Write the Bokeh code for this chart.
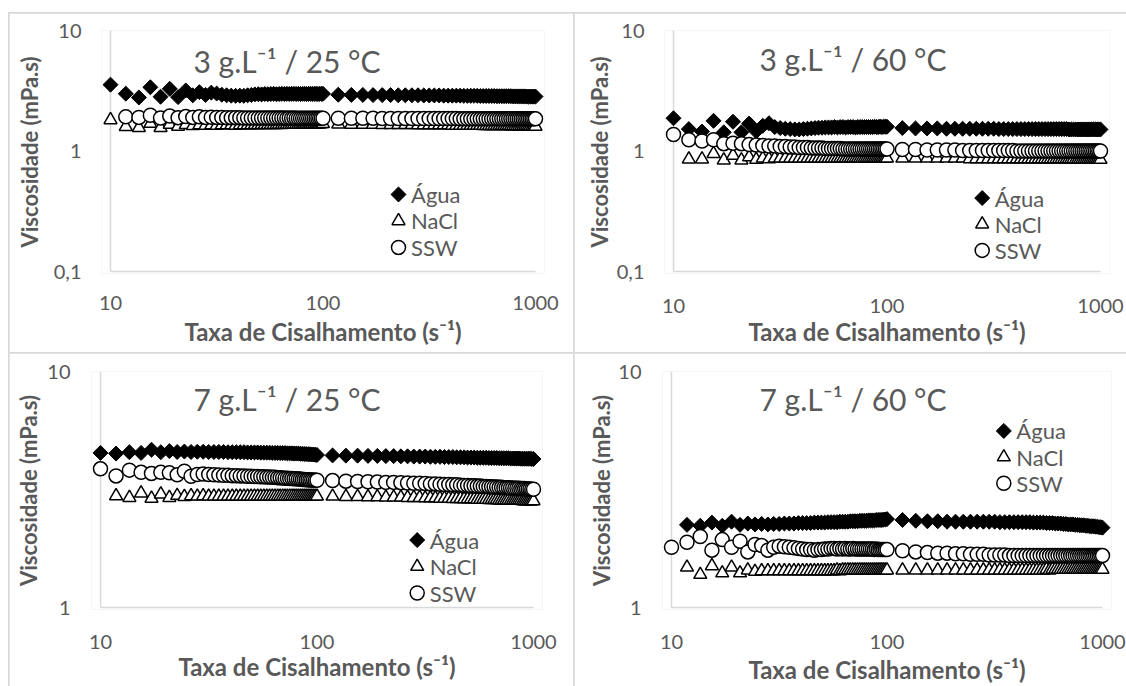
import math
import numpy as np
from bokeh.plotting import figure
from bokeh.models import (Range1d, FixedTicker, Label, ColumnDataSource, CustomJSTickFormatter)
from bokeh.layouts import column, row
from bokeh.embed import file_html
from bokeh.resources import INLINE

# ---------------- data ----------------
shear_rate = [
    10, 11.8, 13.6, 15.4, 17.2, 19, 20.8, 22.6, 24.4, 26.2,
    28, 29.8, 31.6, 33.4, 35.2, 37, 38.8, 40.6, 42.4, 44.2,
    46, 47.8, 49.6, 51.4, 53.2, 55, 56.8, 58.6, 60.4, 62.2,
    64, 65.8, 67.6, 69.4, 71.2, 73, 74.8, 76.6, 78.4, 80.2,
    82, 83.8, 85.6, 87.4, 89.2, 91, 92.8, 94.6, 96.4, 98.2,
    100,
    118, 136, 154, 172, 190, 208, 226, 244, 262, 280,
    298, 316, 334, 352, 370, 388, 406, 424, 442, 460,
    478, 496, 514, 532, 550, 568, 586, 604, 622, 640,
    658, 676, 694, 712, 730, 748, 766, 784, 802, 820,
    838, 856, 874, 892, 910, 928, 946, 964, 982, 1000,
]

agua_3g_25 = [
    3.55, 2.99, 2.78, 3.38, 2.82, 3.28, 2.80, 3.18, 2.90, 3.08,
    2.92, 3.05, 3.00, 2.93, 2.90, 2.88, 2.87, 2.88, 2.87, 2.90,
    2.92, 2.95, 2.96, 2.95, 2.97, 2.96, 2.97, 2.98, 2.96, 2.97,
    2.98, 2.97, 2.98, 2.97, 2.98, 2.98, 2.97, 2.98, 2.97, 2.98,
    2.98, 2.97, 2.98, 2.98, 2.97, 2.98, 2.98, 2.97, 2.98, 2.98,
    2.98,
    2.93, 2.92, 2.92, 2.91, 2.91, 2.91, 2.90, 2.90, 2.90, 2.90,
    2.89, 2.89, 2.89, 2.89, 2.88, 2.88, 2.88, 2.88, 2.88, 2.87,
    2.87, 2.87, 2.87, 2.87, 2.86, 2.86, 2.86, 2.86, 2.86, 2.86,
    2.85, 2.85, 2.85, 2.85, 2.85, 2.85, 2.85, 2.84, 2.84, 2.84,
    2.84, 2.84, 2.84, 2.84, 2.83, 2.83, 2.83, 2.83, 2.83, 2.83,
]
nacl_3g_25 = [
    1.81, 1.59, 1.56, 1.69, 1.56, 1.66, 1.60, 1.65, 1.62, 1.64,
    1.63, 1.64, 1.63, 1.64, 1.64, 1.64, 1.63, 1.64, 1.64, 1.64,
    1.64, 1.65, 1.64, 1.65, 1.65, 1.65, 1.65, 1.65, 1.65, 1.66,
    1.65, 1.66, 1.66, 1.66, 1.66, 1.66, 1.66, 1.66, 1.67, 1.66,
    1.67, 1.67, 1.67, 1.67, 1.67, 1.67, 1.67, 1.68, 1.67, 1.68,
    1.68,
    1.67, 1.66, 1.66, 1.66, 1.65, 1.65, 1.65, 1.65, 1.65, 1.64,
    1.64, 1.64, 1.64, 1.64, 1.64, 1.64, 1.63, 1.63, 1.63, 1.63,
    1.63, 1.63, 1.63, 1.63, 1.63, 1.62, 1.62, 1.62, 1.62, 1.62,
    1.62, 1.62, 1.62, 1.62, 1.62, 1.62, 1.61, 1.61, 1.61, 1.61,
    1.61, 1.61, 1.61, 1.61, 1.61, 1.61, 1.61, 1.60, 1.60, 1.60,
]
ssw_3g_25 = [
    None, 1.92, 1.90, 1.98, 1.88, 1.95, 1.89, 1.93, 1.90, 1.92,
    1.90, 1.91, 1.90, 1.90, 1.89, 1.89, 1.89, 1.89, 1.88, 1.88,
    1.88, 1.88, 1.88, 1.88, 1.88, 1.88, 1.88, 1.88, 1.88, 1.88,
    1.88, 1.88, 1.87, 1.88, 1.87, 1.88, 1.87, 1.87, 1.87, 1.87,
    1.87, 1.87, 1.87, 1.87, 1.87, 1.87, 1.87, 1.87, 1.87, 1.87,
    1.87,
    1.87, 1.87, 1.87, 1.87, 1.86, 1.86, 1.86, 1.86, 1.86, 1.86,
    1.86, 1.86, 1.86, 1.86, 1.86, 1.86, 1.86, 1.86, 1.85, 1.85,
    1.85, 1.85, 1.85, 1.85, 1.85, 1.85, 1.85, 1.85, 1.85, 1.85,
    1.85, 1.85, 1.85, 1.85, 1.85, 1.85, 1.85, 1.85, 1.85, 1.85,
    1.85, 1.85, 1.85, 1.85, 1.85, 1.85, 1.85, 1.85, 1.85, 1.85,
]

agua_3g_60 = [
    1.87, 1.52, 1.45, 1.78, 1.43, 1.75, 1.43, 1.69, 1.46, 1.62,
    1.70, 1.58, 1.55, 1.53, 1.52, 1.51, 1.51, 1.52, 1.53, 1.54,
    1.55, 1.56, 1.56, 1.57, 1.57, 1.57, 1.58, 1.57, 1.58, 1.58,
    1.57, 1.58, 1.58, 1.58, 1.57, 1.58, 1.58, 1.58, 1.58, 1.58,
    1.58, 1.58, 1.58, 1.59, 1.58, 1.58, 1.59, 1.58, 1.59, 1.59,
    1.59,
    1.55, 1.54, 1.54, 1.54, 1.53, 1.53, 1.53, 1.53, 1.53, 1.53,
    1.53, 1.53, 1.52, 1.52, 1.52, 1.52, 1.52, 1.52, 1.52, 1.52,
    1.52, 1.52, 1.52, 1.52, 1.52, 1.52, 1.52, 1.52, 1.52, 1.52,
    1.52, 1.52, 1.52, 1.51, 1.51, 1.51, 1.51, 1.51, 1.51, 1.51,
    1.51, 1.51, 1.51, 1.51, 1.51, 1.51, 1.51, 1.51, 1.51, 1.51,
]
nacl_3g_60 = [
    None, 0.855, 0.855, 0.95, 0.84, 0.92, 0.84, 0.89, 0.85, 0.87,
    0.86, 0.87, 0.87, 0.87, 0.87, 0.87, 0.87, 0.87, 0.87, 0.87,
    0.87, 0.87, 0.87, 0.87, 0.87, 0.87, 0.87, 0.87, 0.87, 0.87,
    0.87, 0.87, 0.87, 0.87, 0.87, 0.87, 0.87, 0.87, 0.87, 0.87,
    0.87, 0.87, 0.87, 0.87, 0.87, 0.87, 0.87, 0.87, 0.87, 0.87,
    0.87,
    0.87, 0.87, 0.87, 0.87, 0.87, 0.87, 0.87, 0.86, 0.86, 0.86,
    0.86, 0.86, 0.86, 0.86, 0.86, 0.86, 0.86, 0.86, 0.86, 0.86,
    0.86, 0.86, 0.86, 0.86, 0.86, 0.86, 0.86, 0.86, 0.86, 0.86,
    0.86, 0.86, 0.86, 0.86, 0.86, 0.86, 0.85, 0.85, 0.85, 0.85,
    0.85, 0.85, 0.85, 0.85, 0.85, 0.85, 0.85, 0.85, 0.85, 0.85,
]
ssw_3g_60 = [
    1.37, 1.24, 1.21, 1.24, 1.15, 1.16, 1.15, 1.13, 1.12, 1.11,
    1.10, 1.10, 1.09, 1.09, 1.08, 1.08, 1.07, 1.07, 1.07, 1.06,
    1.06, 1.06, 1.06, 1.05, 1.05, 1.05, 1.05, 1.05, 1.05, 1.04,
    1.04, 1.04, 1.04, 1.04, 1.04, 1.04, 1.04, 1.04, 1.04, 1.04,
    1.04, 1.04, 1.04, 1.04, 1.04, 1.04, 1.04, 1.04, 1.04, 1.04,
    1.04,
    1.03, 1.03, 1.02, 1.02, 1.02, 1.02, 1.01, 1.01, 1.01, 1.01,
    1.01, 1.01, 1.01, 1.01, 1.01, 1.01, 1.00, 1.00, 1.00, 1.00,
    1.00, 1.00, 1.00, 1.00, 1.00, 1.00, 1.00, 1.00, 1.00, 1.00,
    1.00, 1.00, 1.00, 1.00, 1.00, 1.00, 1.00, 1.00, 1.00, 1.00,
    1.00, 1.00, 1.00, 1.00, 1.00, 1.00, 1.00, 1.00, 1.00, 1.00,
]

agua_7g_25 = [
    4.52, 4.49, 4.55, 4.52, 4.66, 4.55, 4.60, 4.56, 4.58, 4.56,
    4.57, 4.57, 4.56, 4.56, 4.56, 4.56, 4.55, 4.55, 4.55, 4.55,
    4.55, 4.54, 4.54, 4.54, 4.54, 4.53, 4.53, 4.53, 4.53, 4.52,
    4.52, 4.52, 4.51, 4.51, 4.51, 4.50, 4.50, 4.50, 4.49, 4.49,
    4.49, 4.48, 4.48, 4.47, 4.47, 4.46, 4.46, 4.45, 4.45, 4.44,
    4.43,
    4.41, 4.40, 4.40, 4.39, 4.39, 4.38, 4.38, 4.37, 4.37, 4.36,
    4.36, 4.36, 4.35, 4.35, 4.35, 4.34, 4.34, 4.34, 4.33, 4.33,
    4.33, 4.32, 4.32, 4.32, 4.31, 4.31, 4.31, 4.31, 4.30, 4.30,
    4.30, 4.30, 4.29, 4.29, 4.29, 4.29, 4.29, 4.28, 4.28, 4.28,
    4.28, 4.28, 4.27, 4.27, 4.27, 4.27, 4.27, 4.27, 4.26, 4.26,
]
nacl_7g_25 = [
    None, 2.97, 2.92, 3.05, 2.90, 3.02, 2.92, 2.98, 2.95, 2.97,
    2.96, 2.97, 2.96, 2.96, 2.96, 2.96, 2.96, 2.96, 2.96, 2.96,
    2.96, 2.96, 2.96, 2.96, 2.96, 2.96, 2.96, 2.96, 2.96, 2.96,
    2.96, 2.96, 2.96, 2.96, 2.96, 2.96, 2.96, 2.96, 2.96, 2.96,
    2.96, 2.96, 2.96, 2.96, 2.96, 2.96, 2.96, 2.96, 2.96, 2.96,
    2.96,
    2.96, 2.95, 2.95, 2.94, 2.94, 2.93, 2.93, 2.93, 2.92, 2.92,
    2.92, 2.91, 2.91, 2.91, 2.90, 2.90, 2.90, 2.89, 2.89, 2.89,
    2.88, 2.88, 2.88, 2.88, 2.87, 2.87, 2.87, 2.87, 2.86, 2.86,
    2.86, 2.86, 2.85, 2.85, 2.85, 2.85, 2.85, 2.84, 2.84, 2.84,
    2.84, 2.84, 2.84, 2.83, 2.83, 2.83, 2.83, 2.83, 2.83, 2.83,
]
ssw_7g_25 = [
    3.87, 3.61, 3.82, 3.74, 3.70, 3.74, 3.72, 3.65, 3.78, 3.60,
    3.66, 3.68, 3.66, 3.65, 3.64, 3.63, 3.63, 3.62, 3.62, 3.61,
    3.61, 3.60, 3.60, 3.59, 3.59, 3.58, 3.58, 3.57, 3.57, 3.56,
    3.56, 3.55, 3.55, 3.54, 3.53, 3.53, 3.52, 3.52, 3.51, 3.51,
    3.50, 3.50, 3.49, 3.49, 3.48, 3.48, 3.47, 3.47, 3.47, 3.46,
    3.46,
    3.45, 3.43, 3.42, 3.41, 3.40, 3.39, 3.39, 3.38, 3.37, 3.36,
    3.36, 3.35, 3.34, 3.34, 3.33, 3.32, 3.32, 3.31, 3.31, 3.30,
    3.29, 3.29, 3.28, 3.28, 3.27, 3.27, 3.26, 3.26, 3.25, 3.25,
    3.24, 3.24, 3.23, 3.23, 3.22, 3.22, 3.22, 3.21, 3.21, 3.20,
    3.20, 3.20, 3.19, 3.19, 3.19, 3.18, 3.18, 3.18, 3.17, 3.17,
]

agua_7g_60 = [
    None, 2.24, 2.22, 2.29, 2.22, 2.31, 2.24, 2.27, 2.25, 2.26,
    2.25, 2.26, 2.26, 2.27, 2.27, 2.27, 2.28, 2.28, 2.28, 2.28,
    2.29, 2.29, 2.29, 2.29, 2.30, 2.30, 2.30, 2.30, 2.31, 2.31,
    2.31, 2.31, 2.32, 2.32, 2.32, 2.32, 2.33, 2.33, 2.33, 2.33,
    2.34, 2.34, 2.34, 2.34, 2.35, 2.35, 2.35, 2.35, 2.36, 2.36,
    2.37,
    2.35, 2.33, 2.32, 2.32, 2.31, 2.31, 2.31, 2.31, 2.31, 2.31,
    2.31, 2.31, 2.30, 2.30, 2.30, 2.30, 2.30, 2.30, 2.30, 2.30,
    2.29, 2.29, 2.29, 2.29, 2.28, 2.28, 2.28, 2.27, 2.27, 2.27,
    2.26, 2.26, 2.25, 2.25, 2.25, 2.24, 2.24, 2.23, 2.23, 2.23,
    2.22, 2.22, 2.21, 2.21, 2.21, 2.20, 2.20, 2.19, 2.19, 2.18,
]
nacl_7g_60 = [
    None, 1.48, 1.38, 1.50, 1.40, 1.48, 1.40, 1.44, 1.42, 1.43,
    1.43, 1.43, 1.43, 1.43, 1.43, 1.43, 1.43, 1.43, 1.43, 1.43,
    1.43, 1.43, 1.43, 1.43, 1.43, 1.43, 1.43, 1.44, 1.43, 1.44,
    1.44, 1.44, 1.44, 1.44, 1.44, 1.44, 1.44, 1.44, 1.44, 1.44,
    1.44, 1.44, 1.44, 1.44, 1.44, 1.44, 1.44, 1.44, 1.44, 1.44,
    1.44,
    1.44, 1.44, 1.44, 1.44, 1.44, 1.44, 1.44, 1.44, 1.44, 1.44,
    1.44, 1.44, 1.44, 1.44, 1.44, 1.44, 1.44, 1.44, 1.44, 1.44,
    1.44, 1.44, 1.44, 1.44, 1.45, 1.44, 1.45, 1.45, 1.45, 1.45,
    1.45, 1.45, 1.45, 1.45, 1.45, 1.45, 1.45, 1.45, 1.45, 1.45,
    1.45, 1.45, 1.45, 1.45, 1.45, 1.45, 1.45, 1.45, 1.45, 1.45,
]
ssw_7g_60 = [
    1.80, 1.89, 2.00, 1.75, 1.94, 1.80, 1.91, 1.72, 1.85, 1.83,
    1.75, 1.80, 1.82, 1.81, 1.80, 1.79, 1.78, 1.77, 1.76, 1.76,
    1.75, 1.76, 1.76, 1.77, 1.77, 1.78, 1.78, 1.77, 1.78, 1.77,
    1.78, 1.77, 1.77, 1.78, 1.77, 1.77, 1.77, 1.77, 1.77, 1.77,
    1.77, 1.77, 1.77, 1.76, 1.77, 1.76, 1.76, 1.76, 1.76, 1.76,
    1.76,
    1.74, 1.72, 1.71, 1.70, 1.70, 1.69, 1.69, 1.68, 1.68, 1.68,
    1.67, 1.67, 1.67, 1.67, 1.66, 1.66, 1.66, 1.66, 1.66, 1.66,
    1.66, 1.66, 1.66, 1.66, 1.66, 1.66, 1.66, 1.66, 1.66, 1.66,
    1.66, 1.66, 1.66, 1.66, 1.66, 1.66, 1.66, 1.66, 1.66, 1.66,
    1.66, 1.66, 1.66, 1.66, 1.66, 1.66, 1.66, 1.66, 1.66, 1.66,
]

series_names = ["Água", "NaCl", "SSW"]
panel_titles = ["3 g.L⁻¹ / 25 °C", "3 g.L⁻¹ / 60 °C", "7 g.L⁻¹ / 25 °C", "7 g.L⁻¹ / 60 °C"]
x_ticks = [10, 100, 1000]
y_ticks_wide = [0.1, 1, 10]
y_ticks_narrow = [1, 10]
x_title = "Taxa de Cisalhamento (s⁻¹)"
y_title = "Viscosidade (mPa.s)"

# ---------------- style ----------------
TEXT = "#595959"
RULE = "#d9d9d9"
FONT = "Lato"
MARKERS = [
    dict(marker="square", angle=math.pi / 4, size=10.6, fill_color="black", line_color="black", line_width=1),
    dict(marker="triangle", angle=0, size=13, fill_color="white", line_color="black", line_width=1.5),
    dict(marker="circle", angle=0, size=14, fill_color="white", line_color="black", line_width=1.5),
]

# layout geometry (absolute pixels in the page)
specs = [
    dict(o=(9, 13), s=(564, 339), xp=(110, 535), yp=(28, 271), yr=(0.1, 10), yt=y_ticks_wide,
         title=(193, 59), leg=(398, 193.3), xls=16, xts=4, yls=14, yts=8),
    dict(o=(574, 13), s=(552, 339), xp=(673, 1100), yp=(30, 276), yr=(0.1, 10), yt=y_ticks_wide,
         title=(759, 59), leg=(981.7, 201), xls=19, xts=1, yls=14, yts=1),
    dict(o=(9, 353), s=(564, 333), xp=(100, 533), yp=(371, 609), yr=(1, 10), yt=y_ticks_narrow,
         title=(193, 399), leg=(416.7, 541), xls=19, xts=0, yls=15, yts=2),
    dict(o=(574, 353), s=(552, 333), xp=(671, 1102), yp=(371, 612), yr=(1, 10), yt=y_ticks_narrow,
         title=(759, 399), leg=(1003.3, 431.7), xls=19, xts=3, yls=15, yts=0),
]
panel_data = [
    (agua_3g_25, nacl_3g_25, ssw_3g_25),
    (agua_3g_60, nacl_3g_60, ssw_3g_60),
    (agua_7g_25, nacl_7g_25, ssw_7g_25),
    (agua_7g_60, nacl_7g_60, ssw_7g_60),
]


def arr(v):
    return np.array([np.nan if a is None else a for a in v], dtype=float)


def make_panel(spec, data, title):
    ox, oy = spec["o"]
    w, h = spec["s"]
    x10, x1000 = spec["xp"]
    ytop, ybot = spec["yp"]
    ymin, ymax = spec["yr"]
    decx = (x1000 - x10) / 2.0
    decy = (ybot - ytop) / math.log10(ymax / ymin)
    padx, pady = 9, 2
    fl, fr, ft, fb = x10 - padx, x1000 + padx, ytop, ybot + pady
    xr = Range1d(10 / 10 ** (padx / decx), 1000 * 10 ** (padx / decx))
    yr = Range1d(ymin / 10 ** (pady / decy), ymax)

    def dx(px):
        return 10 ** (1 + (px - x10) / decx)

    def dy(py):
        return 10 ** (math.log10(ymax) - (py - ytop) / decy)

    p = figure(width=w, height=h, x_axis_type="log", y_axis_type="log",
               x_range=xr, y_range=yr, output_backend="svg", toolbar_location=None,
               min_border_left=fl - ox, min_border_right=ox + w - fr,
               min_border_top=ft - oy, min_border_bottom=oy + h - fb)
    p.outline_line_color = None
    p.xgrid.visible = False
    p.ygrid.visible = False
    p.background_fill_color = "white"
    p.border_fill_color = "white"

    fmt = CustomJSTickFormatter(code="return String(tick).replace('.', ',');")
    p.xaxis.ticker = FixedTicker(ticks=x_ticks)
    p.yaxis.ticker = FixedTicker(ticks=spec["yt"])
    p.xaxis.formatter = fmt
    p.yaxis.formatter = fmt
    p.xaxis.axis_label = x_title
    p.yaxis.axis_label = y_title
    for ax in (p.xaxis[0], p.yaxis[0]):
        ax.axis_line_color = None
        ax.major_tick_line_color = None
        ax.minor_tick_line_color = None
        ax.major_label_text_font = FONT
        ax.major_label_text_font_size = "20px"
        ax.major_label_text_color = TEXT
        ax.axis_label_text_font = FONT
        ax.axis_label_text_font_style = "bold"
        ax.axis_label_text_color = TEXT
    p.xaxis.axis_label_text_font_size = "24px"
    p.yaxis.axis_label_text_font_size = "22px"
    p.xaxis.major_label_standoff = spec["xls"]
    p.xaxis.axis_label_standoff = spec["xts"]
    p.yaxis.major_label_standoff = spec["yls"]
    p.yaxis.axis_label_standoff = spec["yts"]

    # axis lines at the data limits
    p.segment(x0=[x_ticks[0]], y0=[ymin], x1=[x_ticks[0]], y1=[ymax], line_color=RULE, line_width=1.5)
    p.segment(x0=[x_ticks[0]], y0=[ymin], x1=[x_ticks[-1]], y1=[ymin], line_color=RULE, line_width=1.5)

    xs = np.array(shear_rate, dtype=float)
    for vals, m in zip(data, MARKERS):
        p.scatter(x="x", y="y", source=ColumnDataSource(dict(x=xs, y=arr(vals))), **m)

    # panel title
    tx_px, ty_px = spec["title"]
    p.add_layout(Label(x=dx(tx_px), y=dy(ty_px), text=title, text_font=FONT, text_font_size="30px",
                       text_color=TEXT, text_baseline="middle", text_align="left"))

    # legend (marker + label per series)
    mcx, r1 = spec["leg"]
    pitch = 26.7
    for i, (name, m) in enumerate(zip(series_names, MARKERS)):
        ry = r1 + i * pitch
        p.scatter(x=[dx(mcx)], y=[dy(ry)], **m)
        p.add_layout(Label(x=dx(mcx + 12.5), y=dy(ry), text=name, text_font=FONT,
                           text_font_size="22px", text_color=TEXT,
                           text_baseline="middle", text_align="left"))
    return p


plots = [make_panel(s, d, t) for s, d, t in zip(specs, panel_data, panel_titles)]

top = row(plots[0], plots[1], spacing=1)
bottom = row(plots[2], plots[3], spacing=1)
layout = column(top, bottom, spacing=1, margin=(12, 0, 0, 8),
                styles={"background-color": RULE, "padding": "1px 0px 0px 1px"})

open("out.html", "w").write(file_html(layout, INLINE))
